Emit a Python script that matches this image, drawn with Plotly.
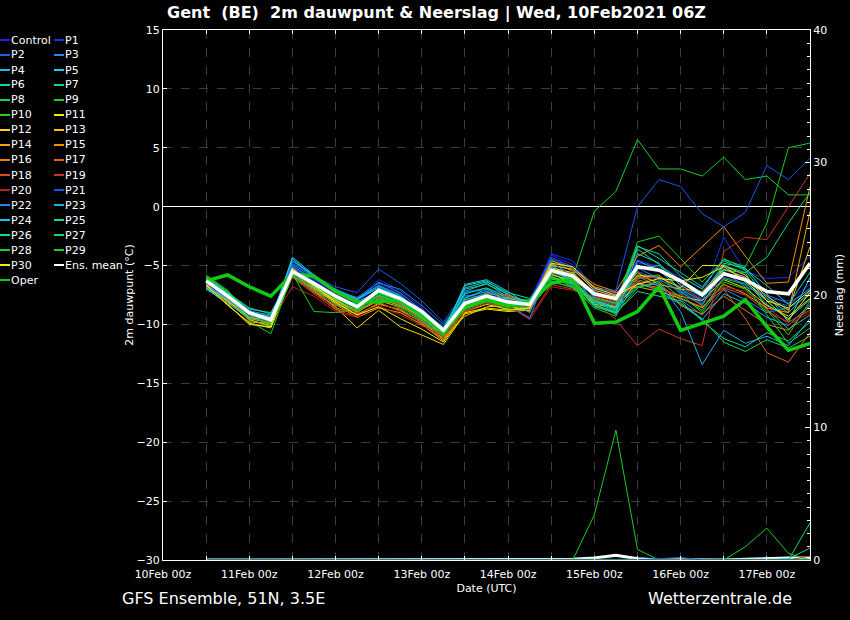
import pandas as pd
import plotly.graph_objects as go

# 6-hourly steps, 10Feb 12z .. 17Feb 12z
times = pd.date_range('2021-02-10 12:00', periods=29, freq='6h')

# 2m dew point (degC) per member
control = [-6.5,-7.8,-9.2,-9.4,-5.2,-6.3,-7.4,-8.2,-6.6,-7.4,-8.7,-10.3,-7.6,-7.2,-7.8,-8.0,-4.1,-4.9,-6.9,-7.4,-4.8,-5.0,-6.0,-6.9,-5.4,-5.9,-7.8,-8.0,-6.6]
p1 = [-6.6,-7.7,-9.1,-9.5,-5.0,-6.2,-7.3,-7.9,-6.2,-7.1,-8.6,-10.4,-7.9,-7.5,-8.2,-8.6,-4.0,-4.6,-7.0,-7.6,-4.5,-5.2,-6.6,-7.8,-2.6,-5.5,-6.1,-6.0,-4.2]
p2 = [-6.4,-7.5,-8.8,-9.3,-5.1,-6.4,-7.5,-8.4,-7.0,-7.9,-9.0,-10.6,-8.0,-7.3,-7.9,-8.4,-4.3,-5.1,-7.2,-8.0,-5.5,-6.2,-7.1,-8.2,-6.0,-6.5,-8.0,-8.4,-6.9]
p3 = [-6.8,-7.9,-9.3,-9.7,-4.9,-6.0,-7.2,-8.0,-6.4,-7.3,-8.8,-10.2,-7.3,-6.9,-7.6,-8.2,-4.5,-5.5,-7.8,-8.3,-5.9,-6.8,-7.9,-9.2,-7.0,-7.9,-9.0,-8.6,-7.5]
p4 = [-6.9,-8.0,-9.5,-9.9,-4.6,-5.9,-7.0,-7.8,-6.7,-7.5,-9.1,-10.8,-7.0,-6.6,-7.4,-8.5,-4.8,-5.8,-8.1,-8.6,-6.3,-7.2,-8.3,-9.6,-7.4,-8.2,-9.4,-10.1,-8.3]
p5 = [-6.7,-7.8,-9.4,-9.8,-4.3,-5.8,-7.1,-7.9,-6.9,-7.7,-9.3,-10.6,-6.7,-6.3,-7.5,-8.1,-5.0,-6.0,-8.4,-8.9,-4.0,-4.8,-6.7,-7.6,-4.8,-5.2,-7.4,-9.8,-6.0]
p6 = [-6.0,-7.3,-8.7,-9.0,-5.6,-6.7,-7.7,-8.6,-7.3,-8.0,-9.4,-10.9,-7.2,-6.5,-7.7,-8.0,-5.6,-6.1,-7.6,-8.2,-3.3,-4.4,-5.6,-6.8,-4.6,-5.4,-7.8,-9.0,-7.2]
p7 = [-5.9,-7.2,-8.9,-9.2,-5.8,-6.9,-7.9,-8.8,-7.5,-8.2,-9.6,-11.0,-7.8,-7.0,-8.0,-7.9,-5.8,-6.3,-7.9,-8.6,-3.6,-4.9,-7.2,-8.4,-5.0,-5.6,-8.7,-10.4,-9.2]
p8 = [-6.1,-7.4,-9.6,-10.2,-5.9,-7.0,-8.1,-8.9,-7.7,-8.3,-9.5,-10.7,-8.4,-7.8,-8.3,-8.2,-6.0,-6.5,-8.2,-8.8,-6.6,-7.0,-8.2,-9.5,-11.5,-12.3,-11.3,-12.0,-11.0]
p9 = [-6.2,-7.5,-9.2,-9.9,-5.7,-6.6,-7.8,-8.7,-7.4,-8.1,-9.0,-10.3,-8.6,-8.0,-8.6,-8.5,-6.2,-6.0,-0.4,1.3,5.7,3.2,3.2,2.6,4.2,2.3,2.6,1.0,1.0]
p10 = [-5.8,-7.1,-9.3,-10.0,-6.0,-7.2,-8.0,-8.8,-7.9,-8.6,-9.7,-11.1,-8.8,-8.1,-8.8,-8.7,-6.4,-6.8,-8.6,-9.3,-6.0,-5.8,-7.4,-9.0,-6.4,-7.0,-8.8,-10.9,-8.0]
p11 = [-6.6,-8.0,-9.4,-9.5,-5.4,-6.8,-7.9,-9.0,-7.8,-8.4,-9.3,-10.8,-8.9,-8.3,-8.7,-8.6,-5.2,-5.6,-7.3,-7.9,-5.8,-6.0,-6.9,-5.0,-5.0,-5.8,-8.0,-8.6,-7.1]
p12 = [-6.9,-8.3,-9.9,-10.3,-5.9,-7.2,-8.5,-10.3,-8.8,-10.2,-10.9,-11.7,-9.1,-8.7,-8.9,-8.8,-5.7,-6.4,-8.3,-8.5,-6.5,-6.9,-7.6,-8.0,-6.2,-6.9,-8.4,-9.3,-7.8]
p13 = [-6.7,-8.1,-9.6,-10.1,-5.3,-6.9,-8.2,-9.2,-8.2,-8.8,-9.8,-11.2,-9.3,-8.5,-8.4,-8.9,-5.0,-5.3,-7.1,-7.6,-5.6,-6.6,-7.0,-7.2,-5.3,-6.0,-7.6,-8.8,-3.4]
p14 = [-6.5,-8.4,-9.8,-9.9,-5.4,-6.6,-8.3,-9.4,-8.6,-9.0,-10.0,-11.4,-8.7,-7.9,-8.0,-8.7,-4.9,-5.4,-6.8,-7.3,-6.8,-7.2,-7.8,-8.6,-6.6,-7.4,-8.6,-9.0,-0.4]
p15 = [-6.3,-7.9,-9.5,-9.8,-5.6,-7.0,-8.0,-8.9,-8.0,-8.5,-9.4,-11.0,-8.5,-7.7,-7.7,-8.5,-4.6,-5.2,-6.6,-7.2,-4.2,-3.3,-5.1,-3.4,-1.7,-4.2,-6.5,-6.4,1.7]
p16 = [-6.4,-7.7,-9.3,-9.6,-5.5,-7.1,-8.6,-9.1,-8.3,-8.7,-9.9,-11.3,-8.2,-7.6,-7.8,-8.4,-5.3,-5.7,-7.7,-8.1,-5.9,-6.4,-8.4,-9.1,-7.6,-8.8,-10.0,-10.5,-8.4]
p17 = [-6.2,-7.6,-9.1,-9.7,-5.8,-7.3,-8.4,-8.7,-7.6,-8.2,-9.2,-10.9,-8.3,-7.4,-7.5,-8.3,-5.5,-6.2,-7.5,-8.0,-6.2,-6.7,-7.8,-8.5,-7.0,-9.5,-12.4,-13.2,-10.7]
p18 = [-6.1,-7.5,-9.0,-9.4,-6.0,-7.4,-8.7,-9.0,-7.7,-8.3,-9.6,-11.1,-8.4,-7.3,-7.6,-8.8,-5.9,-6.6,-7.9,-8.4,-6.1,-5.9,-6.8,-7.9,-6.9,-7.5,-8.9,-9.8,-8.8]
p19 = [-6.3,-7.7,-9.2,-9.6,-5.9,-7.2,-8.8,-9.3,-8.1,-8.9,-9.8,-10.9,-8.9,-8.2,-8.5,-9.4,-6.6,-7.0,-8.0,-9.6,-11.8,-10.4,-11.2,-11.8,-3.8,-2.6,-2.8,0.0,2.8]
p20 = [-6.4,-7.6,-9.3,-9.8,-6.8,-7.6,-8.9,-9.4,-8.4,-9.2,-10.1,-11.0,-8.8,-8.0,-8.4,-9.6,-6.8,-7.1,-7.6,-8.1,-6.4,-7.0,-7.5,-8.3,-6.8,-7.2,-8.5,-10.0,-9.0]
p21 = [-6.5,-7.6,-8.9,-9.3,-4.8,-5.9,-6.8,-7.3,-5.3,-6.5,-8.0,-9.8,-7.2,-7.1,-8.0,-8.1,-4.4,-5.2,-7.0,-7.1,0.0,2.3,1.7,-0.6,-1.7,-0.5,3.5,2.3,4.1]
p22 = [-6.8,-7.7,-9.0,-9.3,-5.1,-6.1,-7.2,-7.7,-6.5,-7.0,-8.4,-10.0,-7.5,-7.7,-8.3,-9.5,-4.7,-5.9,-7.7,-9.2,-5.2,-6.1,-7.3,-8.3,-5.5,-6.8,-7.5,-8.2,-7.0]
p23 = [-6.9,-7.9,-9.2,-9.5,-4.6,-5.8,-7.1,-7.8,-6.8,-7.6,-8.9,-10.5,-7.7,-7.2,-7.9,-9.0,-5.1,-6.6,-8.0,-8.7,-6.8,-6.5,-8.9,-13.4,-10.5,-11.6,-11.0,-11.8,-9.5]
p24 = [-7.0,-8.2,-9.4,-9.6,-4.4,-6.0,-7.3,-8.1,-7.2,-7.8,-9.2,-10.7,-6.6,-6.2,-7.2,-8.4,-5.2,-6.3,-8.5,-9.0,-4.6,-5.4,-7.0,-8.0,-4.9,-6.4,-8.3,-9.5,-7.9]
p25 = [-6.0,-7.3,-8.6,-9.1,-5.7,-6.5,-7.6,-8.3,-7.1,-7.9,-9.1,-10.4,-6.9,-6.4,-7.3,-7.8,-5.4,-6.4,-8.0,-8.5,-3.4,-4.0,-5.9,-7.0,-4.4,-5.3,-6.7,-8.3,-5.6]
p26 = [-6.2,-7.4,-9.0,-9.4,-5.5,-6.6,-7.5,-8.4,-7.3,-8.0,-9.3,-10.6,-7.4,-6.9,-7.8,-8.1,-5.9,-6.7,-8.3,-9.0,-7.2,-7.6,-8.0,-9.7,-11.2,-11.9,-10.7,-11.4,-9.8]
p27 = [-6.1,-7.3,-9.1,-9.8,-5.6,-6.8,-7.7,-8.6,-7.6,-8.1,-9.5,-10.8,-7.9,-7.4,-8.1,-8.0,-6.1,-6.5,-8.1,-8.7,-5.3,-5.0,-6.2,-7.3,-5.4,-5.6,-4.3,-1.4,1.2]
p28 = [-6.3,-7.5,-9.2,-10.1,-5.8,-7.1,-8.3,-8.9,-7.8,-8.4,-9.7,-11.0,-8.1,-7.7,-8.2,-8.2,-6.3,-6.9,-8.4,-9.1,-6.9,-6.3,-7.7,-8.8,-6.1,-6.6,-9.2,-11.6,-10.3]
p29 = [-6.0,-7.6,-9.7,-10.8,-5.7,-8.9,-9.0,-8.7,-7.5,-8.2,-9.4,-10.6,-8.7,-8.0,-8.5,-8.4,-6.0,-6.8,-7.8,-8.2,-3.0,-2.5,-4.4,-6.4,-4.5,-5.1,-1.4,5.0,5.4]
p30 = [-6.7,-8.3,-10.0,-10.2,-5.2,-6.7,-8.1,-9.2,-8.5,-9.5,-10.4,-11.5,-9.0,-8.6,-8.8,-8.6,-4.8,-5.1,-6.9,-7.5,-6.6,-6.1,-6.3,-6.0,-5.1,-6.3,-8.0,-9.6,-7.3]
ens_mean = [-6.3,-7.6,-9.0,-9.6,-5.5,-6.5,-7.6,-8.5,-7.1,-7.8,-8.9,-10.5,-8.2,-7.6,-8.1,-8.3,-5.4,-5.9,-7.4,-7.8,-5.1,-5.4,-6.3,-7.5,-5.7,-6.2,-7.2,-7.4,-4.8]
oper = [-6.3,-5.8,-6.8,-7.6,-5.7,-5.9,-7.2,-8.1,-8.1,-7.9,-9.2,-10.7,-8.5,-7.9,-8.4,-8.1,-6.5,-6.1,-9.9,-9.8,-8.9,-6.8,-10.5,-9.9,-9.3,-7.9,-10.2,-12.2,-11.6]

# precipitation (mm), only members with rain shown separately
rain_p9 = [0,0,0,0,0,0,0,0,0,0,0,0,0,0,0,0,0,0,3.4,9.8,0.8,0,0,0,0,0,0,0,0]
rain_p29 = [0,0,0,0,0,0,0,0,0,0,0,0,0,0,0,0,0,0,0,0,0,0,0,0,0,1.0,2.4,0.5,0]
rain_p27 = [0,0,0,0,0,0,0,0,0,0,0,0,0,0,0,0,0,0,0,0,0,0,0,0,0,0,0,0,2.8]
rain_p25 = [0,0,0,0,0,0,0,0,0,0,0,0,0,0,0,0,0,0,0,0,0,0,0,0,0,0,0,0.1,0.9]
rain_p19 = [0,0,0,0,0,0,0,0,0,0,0,0,0,0,0,0,0,0,0,0,0,0,0,0,0,0,0,0,0.3]
rain_p21 = [0,0,0,0,0,0,0,0,0,0,0,0,0,0,0,0,0,0,0,0,0,0.1,0.2,0,0,0,0,0,0]
rain_mean = [0,0,0,0,0,0,0,0,0,0,0,0,0,0,0,0,0,0.05,0.15,0.35,0.1,0,0.02,0,0,0.05,0.12,0.15,0.15]
rain_oper = [0,0,0,0,0,0,0,0,0,0,0,0,0,0,0,0,0,0,0,0,0,0,0,0,0,0,0,0,0]

members = [control, p1, p2, p3, p4, p5, p6, p7, p8, p9, p10, p11, p12, p13, p14, p15,
           p16, p17, p18, p19, p20, p21, p22, p23, p24, p25, p26, p27, p28, p29, p30]
names = ['Control'] + ['P%d' % i for i in range(1, 31)]
colors = ['#3a14e6', '#1434f0', '#1464f0', '#1892f2', '#14bcf0', '#12d4e2', '#12d8a4', '#12d886',
          '#12d454', '#14d024', '#24d010', '#f2f000', '#f8dc00', '#f8c000', '#f8a400', '#f88e00',
          '#e87c14', '#e06214', '#d84a20', '#d03420', '#b82020', '#1458f2', '#1884f0', '#14b2f0',
          '#14cae8', '#12d8a4', '#12d890', '#12d870', '#14d044', '#14d020', '#f2f000']
mean_color = '#ffffff'
oper_color = '#12cc12'

fig = go.Figure()

rain = {'P9': rain_p9, 'P29': rain_p29, 'P27': rain_p27, 'P25': rain_p25, 'P19': rain_p19, 'P21': rain_p21}
fig.add_trace(go.Scatter(x=times, y=rain_mean, yaxis='y2', mode='lines',
                         line=dict(color=mean_color, width=3), showlegend=False))
fig.add_trace(go.Scatter(x=times, y=rain_oper, yaxis='y2', mode='lines',
                         line=dict(color=oper_color, width=2.5), showlegend=False))
for nm, vals in rain.items():
    fig.add_trace(go.Scatter(x=times, y=vals, yaxis='y2', mode='lines',
                             line=dict(color=colors[names.index(nm)], width=1), showlegend=False))

for nm, vals, c in zip(names, members, colors):
    fig.add_trace(go.Scatter(x=times, y=vals, mode='lines', name=nm,
                             line=dict(color=c, width=1), showlegend=False))
fig.add_trace(go.Scatter(x=times, y=oper, mode='lines', name='Oper',
                         line=dict(color=oper_color, width=3.5), showlegend=False))
fig.add_trace(go.Scatter(x=times, y=ens_mean, mode='lines', name='Ens. mean',
                         line=dict(color=mean_color, width=3.5), showlegend=False))

# hand-made two column legend to the left of the plot
L, R, T, B = 163, 40, 30, 60
pw, ph = 850 - L - R, 620 - T - B
leg_names = names + ['Ens. mean', 'Oper']
leg_colors = colors + [mean_color, oper_color]
shapes = []
annotations = []
for k, (nm, c) in enumerate(zip(leg_names, leg_colors)):
    row, col = k // 2, k % 2
    px0 = 0 if col == 0 else 54
    py = 40 + 15 * row
    yp = (620 - B - py) / ph
    shapes.append(dict(type='line', xref='paper', yref='paper',
                       x0=(px0 - L) / pw, x1=(px0 + 10 - L) / pw, y0=yp, y1=yp,
                       line=dict(color=c, width=2)))
    annotations.append(dict(text=nm, xref='paper', yref='paper', x=(px0 + 9 - L) / pw, y=yp,
                            xanchor='left', yanchor='middle', showarrow=False,
                            font=dict(size=11, color='white')))

annotations.append(dict(text='GFS Ensemble, 51N, 3.5E', xref='paper', yref='paper',
                        x=(120 - L) / pw, y=(620 - B - 598) / ph, xanchor='left', yanchor='middle',
                        showarrow=False, font=dict(size=16, color='white')))
annotations.append(dict(text='Wetterzentrale.de', xref='paper', yref='paper',
                        x=(794 - L) / pw, y=(620 - B - 598) / ph, xanchor='right', yanchor='middle',
                        showarrow=False, font=dict(size=16, color='white')))

grid = '#3c3c3c'
fig.update_layout(
    width=850, height=620,
    margin=dict(l=L, r=R, t=T, b=B),
    paper_bgcolor='black', plot_bgcolor='black',
    font=dict(family='DejaVu Sans', color='white', size=11),
    title=dict(text='<b>Gent  (BE)  2m dauwpunt &amp; Neerslag | Wed, 10Feb2021 06Z</b>',
               x=(167 - L) / pw, xref='paper', xanchor='left', y=1 - 12 / 620, yanchor='middle',
               font=dict(size=16, color='white')),
    showlegend=False,
    shapes=shapes,
    annotations=annotations,
    xaxis=dict(type='date', range=['2021-02-10 00:00', '2021-02-17 12:00'],
               dtick=86400000, tick0='2021-02-10', tickformat='%d%b %Hz',
               showgrid=True, gridcolor=grid, griddash='dash', gridwidth=1,
               minor=dict(dtick=43200000, showgrid=True, gridcolor=grid, griddash='dash',
                          ticks='inside', ticklen=4, tickcolor='white'),
               ticks='inside', ticklen=4, tickcolor='white', ticklabelstandoff=4,
               showline=True, linecolor='white', linewidth=1, mirror='allticks',
               zeroline=False, tickfont=dict(size=11), automargin=False,
               title=dict(text='Date (UTC)', font=dict(size=11), standoff=4)),
    yaxis=dict(range=[-30, 15], dtick=5, showgrid=True, gridcolor=grid, griddash='dash',
               zeroline=True, zerolinecolor='white', zerolinewidth=1,
               ticks='inside', ticklen=4, tickcolor='white',
               showline=True, linecolor='white', linewidth=1, mirror=True,
               tickfont=dict(size=11), automargin=False,
               title=dict(text='2m dauwpunt (°C)', font=dict(size=11), standoff=0)),
    yaxis2=dict(range=[0, 40], dtick=10, overlaying='y', side='right', showgrid=False,
                zeroline=False, ticks='inside', ticklen=5, tickcolor='white',
                minor=dict(dtick=1, ticks='inside', ticklen=3, tickcolor='white'),
                showline=True, linecolor='white', linewidth=1,
                tickfont=dict(size=11), automargin=False,
                title=dict(text='Neerslag (mm)', font=dict(size=11), standoff=9)),
)

fig.write_html('out.html', config={'displayModeBar': False},
               post_script="document.body.style.margin='0';document.body.style.overflow='hidden';")
